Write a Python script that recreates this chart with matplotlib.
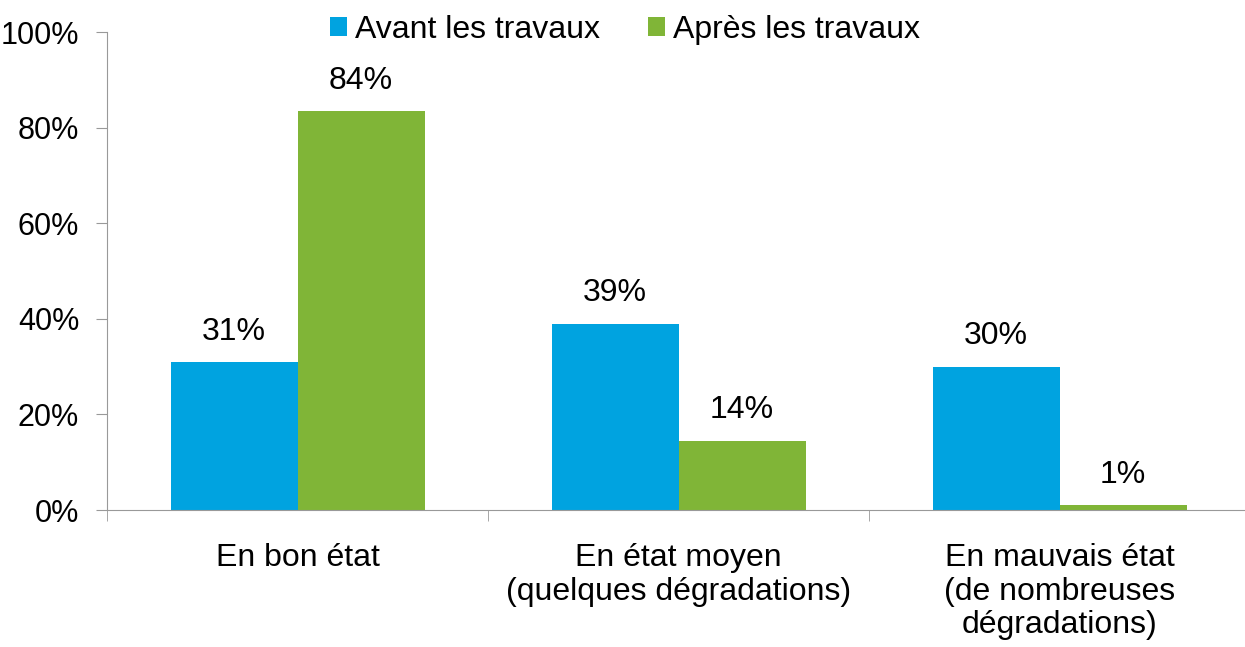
import numpy as np
import matplotlib
matplotlib.use("Agg")
import matplotlib.pyplot as plt
from matplotlib.ticker import FixedLocator, PercentFormatter

categories = ["En bon état",
              "En état moyen\n(quelques dégradations)",
              "En mauvais état\n(de nombreuses\ndégradations)"]
avant = [31, 39, 30]
apres = [83.5, 14.5, 1]
avant_labels = ["31%", "39%", "30%"]
apres_labels = ["84%", "14%", "1%"]
series_names = ["Avant les travaux", "Après les travaux"]

plt.rcParams['font.family'] = ['Liberation Sans', 'DejaVu Sans']
fs = 23

fig = plt.figure(figsize=(12.45, 6.47), dpi=100)
ax = fig.add_axes([107 / 1245, 137 / 647, 1143 / 1245, 478 / 647])

x = np.arange(len(categories))
w = 1 / 3
b1 = ax.bar(x - w / 2, avant, w, color="#00A3E0", label=series_names[0])
b2 = ax.bar(x + w / 2, apres, w, color="#80B537", label=series_names[1])

for bars, labs in [(b1, avant_labels), (b2, apres_labels)]:
    for rect, lab in zip(bars, labs):
        ax.annotate(lab, (rect.get_x() + rect.get_width() / 2, rect.get_height()),
                    xytext=(0, 11), textcoords="offset points",
                    ha="center", va="bottom", fontsize=fs)

ax.set_xlim(-0.5, 2.5)
ax.set_ylim(0, 100)
ax.yaxis.set_major_locator(FixedLocator([0, 20, 40, 60, 80, 100]))
ax.yaxis.set_major_formatter(PercentFormatter(decimals=0))

ax.set_xticks(x)
ax.set_xticklabels(categories, fontsize=fs, linespacing=1.15, va="top")
ax.xaxis.set_minor_locator(FixedLocator([-0.5, 0.5, 1.5, 2.5]))
ax.tick_params(axis="x", which="major", length=0, pad=24)
ax.tick_params(axis="x", which="minor", length=8, color="#999999", direction="out")
ax.tick_params(axis="y", labelsize=22, length=8, color="#999999", pad=12)

for s in ["top", "right"]:
    ax.spines[s].set_visible(False)
for s in ["left", "bottom"]:
    ax.spines[s].set_color("#999999")

fig.legend(loc="center", bbox_to_anchor=(625 / 1245, 1 - 30 / 647), ncol=2,
           frameon=False, fontsize=fs, handlelength=0.53, handleheight=0.53,
           handletextpad=0.25, columnspacing=1.5)

fig.savefig("out.png", dpi=100)
